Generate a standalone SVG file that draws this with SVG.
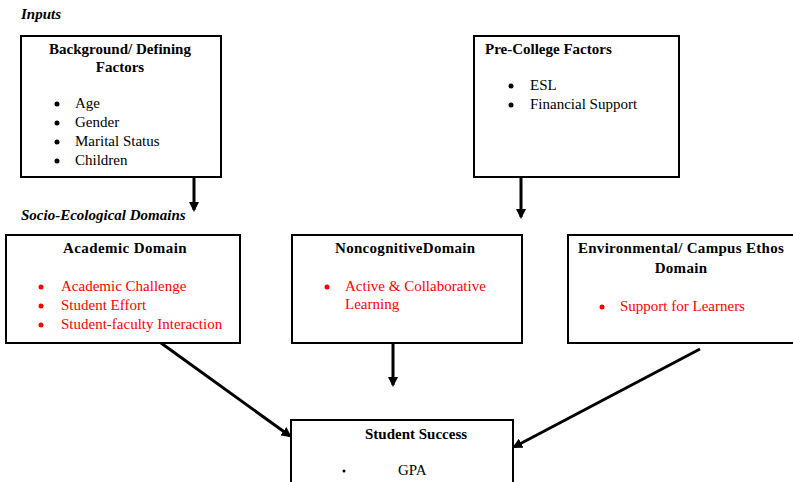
<svg xmlns="http://www.w3.org/2000/svg" width="793" height="482" viewBox="0 0 793 482">
<defs>
<style>
.box{fill:#fff;stroke:#000;stroke-width:2}
text{font-family:"Liberation Serif","Times New Roman",serif;font-size:15px;fill:#000}
.t{font-weight:bold}
.h{font-weight:bold;font-style:italic}
.r{fill:#f00}
.c{text-anchor:middle}
.e{stroke:#000;stroke-width:3;fill:none}
</style>
<marker id="ah" viewBox="0 0 10 10" refX="8" refY="5" markerWidth="3.4" markerHeight="3.4" orient="auto" markerUnits="strokeWidth">
<path d="M0,0 L10,5 L0,10 z" fill="#000"/>
</marker>
</defs>
<rect width="793" height="482" fill="#fff"/>
<text class="h" x="21" y="19">Inputs</text>
<text class="h" x="21" y="220">Socio-Ecological Domains</text>

<g id="connectors">
<line class="e" x1="194" y1="177" x2="194" y2="210" marker-end="url(#ah)"/>
<line class="e" x1="521" y1="177" x2="521" y2="217" marker-end="url(#ah)"/>
<line class="e" x1="161" y1="343" x2="290" y2="436" marker-end="url(#ah)"/>
<line class="e" x1="393" y1="343" x2="393" y2="385" marker-end="url(#ah)"/>
<line class="e" x1="700" y1="349" x2="514" y2="447" marker-end="url(#ah)"/>
</g>

<g id="background">
<rect class="box" x="21" y="36" width="200" height="141"/>
<text class="t c" x="120" y="54">Background/ Defining</text>
<text class="t c" x="120" y="72">Factors</text>
<circle cx="57" cy="104" r="2.5"/><text x="75" y="108">Age</text>
<circle cx="57" cy="123" r="2.5"/><text x="75" y="127">Gender</text>
<circle cx="57" cy="142" r="2.5"/><text x="75" y="146">Marital Status</text>
<circle cx="57" cy="161" r="2.5"/><text x="75" y="165">Children</text>
</g>

<g id="precollege">
<rect class="box" x="474" y="36" width="205" height="141"/>
<text class="t" x="485" y="54">Pre-College Factors</text>
<circle cx="511" cy="86" r="2.5"/><text x="530" y="90">ESL</text>
<circle cx="511" cy="105" r="2.5"/><text x="530" y="109">Financial Support</text>
</g>

<g id="academic">
<rect class="box" x="6" y="235" width="234" height="108"/>
<text class="t c" x="125" y="253" letter-spacing="0.4">Academic Domain</text>
<circle cx="41" cy="287" r="2.5" fill="#f00"/><text class="r" x="61" y="291">Academic Challenge</text>
<circle cx="41" cy="306" r="2.5" fill="#f00"/><text class="r" x="61" y="310">Student Effort</text>
<circle cx="41" cy="325" r="2.5" fill="#f00"/><text class="r" x="61" y="329">Student-faculty Interaction</text>
</g>

<g id="noncognitive">
<rect class="box" x="292" y="235" width="230" height="108"/>
<text class="t" x="335" y="253" letter-spacing="0.3">NoncognitiveDomain</text>
<circle cx="327" cy="287" r="2.5" fill="#f00"/><text class="r" x="345" y="291">Active &amp; Collaborative</text>
<text class="r" x="345" y="309">Learning</text>
</g>

<g id="environmental">
<rect class="box" x="568" y="235" width="240" height="108"/>
<text class="t c" x="681" y="253" letter-spacing="0.3">Environmental/ Campus Ethos</text>
<text class="t c" x="681" y="273" letter-spacing="0.3">Domain</text>
<circle cx="602" cy="307" r="2.5" fill="#f00"/><text class="r" x="620" y="311">Support for Learners</text>
</g>

<g id="success">
<rect class="box" x="291" y="420" width="222" height="70"/>
<text class="t" x="365" y="439">Student Success</text>
<circle cx="344" cy="471" r="1.5"/>
<text x="398" y="475">GPA</text>
</g>
</svg>
